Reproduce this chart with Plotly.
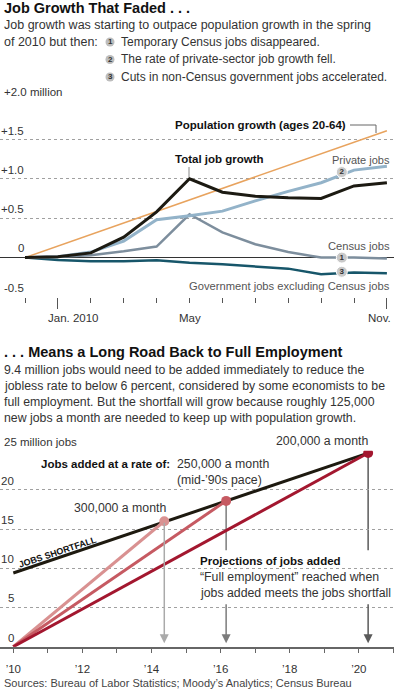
import plotly.graph_objects as go

W, H = 394, 699
FONT = "Liberation Sans"
TXT = "#333333"

# ---------------- Top chart data (millions, change since Dec. 2009) ----------------
months = [0, 1, 2, 3, 4, 5, 6, 7, 8, 9, 10, 11]  # Dec '09 .. Nov '10
total_jobs = [0, 0.01, 0.06, 0.26, 0.58, 1.0, 0.83, 0.78, 0.76, 0.75, 0.91, 0.95]
private_jobs = [0, 0.01, 0.07, 0.21, 0.48, 0.53, 0.59, 0.72, 0.84, 0.95, 1.11, 1.16]
census_jobs = [0, 0.01, 0.03, 0.08, 0.14, 0.55, 0.32, 0.17, 0.07, 0.0, 0.0, -0.01]
gov_ex_census = [0, -0.03, -0.045, -0.045, -0.035, -0.065, -0.085, -0.11, -0.14, -0.21, -0.19, -0.2]
pop_months = [0, 11]
pop_growth = [0, 1.61]
top_ytick_vals = [-0.5, 0.5, 1.0, 1.5, 2.0]
top_ytick_text = ["-0.5", "0", "+0.5", "+1.0", "+1.5"]
badge_month = 9.63
badge_vals = [0.0, 1.085, -0.18]
badge_text = ["1", "2", "3"]

# ---------------- Bottom chart data (millions of jobs) ----------------
shortfall_years = [2010, 2020.27]
shortfall_vals = [9.4, 24.7]
proj_labels = ["300,000 a month", "250,000 a month", "200,000 a month"]
proj_end_years = [2014.37, 2016.16, 2020.27]
proj_end_vals = [16.0, 18.6, 24.7]
proj_colors = ["#d99191", "#c65a62", "#a3172f"]
arrow_colors = ["#aaaaaa", "#7c7c7c", "#5a5a5a"]
bot_ytick_vals = [5, 10, 15, 20, 25]
bot_ytick_text = ["5", "10", "15", "20"]
bot_xtick_vals = [2010, 2012, 2014, 2016, 2018, 2020]
bot_xtick_text = ["\u201910", "\u201912", "\u201914", "\u201916", "\u201918", "\u201920"]


def px(x):
    return x / W


def py(y):
    return 1 - y / H


fig = go.Figure()

# ---- top traces ----
fig.add_trace(go.Scatter(x=pop_months, y=pop_growth, mode="lines",
                         line=dict(color="#e8a35e", width=1.5), xaxis="x", yaxis="y"))
fig.add_trace(go.Scatter(x=months, y=gov_ex_census, mode="lines",
                         line=dict(color="#17566a", width=2.5), xaxis="x", yaxis="y"))
fig.add_trace(go.Scatter(x=months, y=census_jobs, mode="lines",
                         line=dict(color="#7d8e9d", width=2.5), xaxis="x", yaxis="y"))
fig.add_trace(go.Scatter(x=months, y=private_jobs, mode="lines",
                         line=dict(color="#93b3c9", width=3), xaxis="x", yaxis="y"))
fig.add_trace(go.Scatter(x=months, y=total_jobs, mode="lines",
                         line=dict(color="#1c1a12", width=3), xaxis="x", yaxis="y"))
fig.add_trace(go.Scatter(x=[badge_month] * 3, y=badge_vals, mode="markers+text",
                         text=["<b>%s</b>" % t for t in badge_text], textposition="middle center",
                         textfont=dict(family=FONT, size=8, color="#333"),
                         marker=dict(size=11, color="#c9c9c9", line=dict(color="white", width=1)),
                         xaxis="x", yaxis="y"))

# ---- bottom traces ----
fig.add_trace(go.Scatter(x=shortfall_years, y=shortfall_vals, mode="lines",
                         line=dict(color="#1e1a10", width=3), xaxis="x2", yaxis="y2"))
for i in range(3):
    fig.add_trace(go.Scatter(x=[2010, proj_end_years[i]], y=[0, proj_end_vals[i]], mode="lines",
                             line=dict(color=proj_colors[i], width=3), xaxis="x2", yaxis="y2"))
fig.add_trace(go.Scatter(x=proj_end_years, y=proj_end_vals, mode="markers",
                         marker=dict(size=10, color=proj_colors), xaxis="x2", yaxis="y2"))

ann = []


def text(x, y, s, size=12, anchor="left", bold=False, color=TXT, angle=0):
    ann.append(dict(xref="paper", yref="paper", x=px(x), y=py(y), text=("<b>%s</b>" % s) if bold else s,
                    showarrow=False, xanchor=anchor, yanchor="middle", textangle=angle,
                    font=dict(family=FONT, size=size, color=color)))


# header texts top
text(2, 8, "Job Growth That Faded . . .", size=14.5, bold=True, color="#111")
text(2, 25, "Job growth was starting to outpace population growth in the spring", size=12.5)
text(2, 42, "of 2010 but then:", size=12.5)
items = ["Temporary Census jobs disappeared.", "The rate of private-sector job growth fell.",
         "Cuts in non-Census government jobs accelerated."]
item_y = [42, 59.5, 77]
shapes = []
for i, s in enumerate(items):
    shapes.append(dict(type="circle", xref="paper", yref="paper", x0=px(105.5), x1=px(114.5),
                       y0=py(item_y[i] + 4.5), y1=py(item_y[i] - 4.5), fillcolor="#bdbdbd",
                       line=dict(width=0)))
    ann.append(dict(xref="paper", yref="paper", x=px(110), y=py(item_y[i]), text="<b>%d</b>" % (i + 1),
                    showarrow=False, xanchor="center", yanchor="middle",
                    font=dict(family=FONT, size=8, color="#333")))
    text(119, item_y[i], s, size=12)

# top y labels
top_label_y = [288, 248, 209, 170, 131]
for lbl, yy in zip(top_ytick_text, top_label_y):
    text(26, yy, lbl, size=11.5, anchor="right")
text(2, 92, "+2.0 million", size=11.5)

# top x labels
text(73, 318, "Jan. 2010", size=11.5, anchor="center")
text(190, 318, "May", size=11.5, anchor="center")
text(393, 318, "Nov.", size=11.5, anchor="right")

# top series labels
text(173, 125, "Population growth (ages 20-64)", size=11.5, bold=True, color="#111")
text(173, 159, "Total job growth", size=11.5, bold=True, color="#111")
text(392, 160, "Private jobs", size=11, anchor="right", color="#555")
text(392, 246, "Census jobs", size=11.2, anchor="right", color="#555")
text(392, 286, "Government jobs excluding Census jobs", size=11.2, anchor="right", color="#555")
shapes.append(dict(type="path", xref="paper", yref="paper",
                   path="M %f %f L %f %f L %f %f" % (px(350), py(125), px(376), py(125), px(376), py(133)),
                   line=dict(color="#666", width=1)))
shapes.append(dict(type="line", xref="paper", yref="paper", x0=px(189), x1=px(189), y0=py(167), y1=py(177),
                   line=dict(color="#888", width=1)))

# bottom header
text(2, 352, ". . . Means a Long Road Back to Full Employment", size=14.5, bold=True, color="#111")
para = ["9.4 million jobs would need to be added immediately to reduce the",
        "jobless rate to below 6 percent, considered by some economists to be",
        "full employment. But the shortfall will grow because roughly 125,000",
        "new jobs a month are needed to keep up with population growth."]
for i, s in enumerate(para):
    text(2, 370 + 16 * i, s, size=12.3)

# bottom y labels
text(2, 442, "25 million jobs", size=11.5)
for lbl, yy in zip(bot_ytick_text[::-1] + ["0"], [481, 520, 559, 598, 638]):
    text(16, yy, lbl, size=11.5, anchor="right")

# bottom in-chart labels
text(370, 441, proj_labels[2], size=12.3, anchor="right")
text(172, 464, "Jobs added at a rate of:", size=11.5, anchor="right", bold=True, color="#111")
text(175, 464, proj_labels[1], size=12.3)
text(175, 480, "(mid-\u201990s pace)", size=12.3)
text(72, 508, proj_labels[0], size=12.3)
text(58, 552, "JOBS SHORTFALL", size=9, anchor="center", bold=True, color="#111", angle=-18.5)
text(198, 561, "Projections of jobs added", size=11.5, bold=True, color="#111")
text(198, 577, "\u201cFull employment\u201d reached when", size=12.3)
text(198, 593, "jobs added meets the jobs shortfall", size=12.3)
text(2, 683, "Sources: Bureau of Labor Statistics; Moody\u2019s Analytics; Census Bureau", size=11, color="#444")

# drop arrows
gap_top, gap_bot = 12.3, 5.6
for i in range(3):
    xe, ye = proj_end_years[i], proj_end_vals[i]
    start = ye if i == 0 else gap_bot
    if i > 0:
        shapes.append(dict(type="line", xref="x2", yref="y2", x0=xe, x1=xe, y0=ye, y1=gap_top,
                           line=dict(color=arrow_colors[i], width=1.5), layer="below"))
    ann.append(dict(xref="x2", yref="y2", axref="x2", ayref="y2", x=xe, y=0.45, ax=xe, ay=start,
                    text="", showarrow=True, arrowhead=2, arrowsize=1.2, arrowwidth=1.5,
                    arrowcolor=arrow_colors[i], standoff=0))

dot_grid = dict(showgrid=True, gridcolor="#a0a0a0", griddash="dot", gridwidth=1)

fig.update_layout(
    width=W, height=H, margin=dict(l=0, r=0, t=0, b=0),
    paper_bgcolor="white", plot_bgcolor="white", showlegend=False,
    font=dict(family=FONT, color=TXT),
    xaxis=dict(domain=[0, 1], range=[-25 / 32.9, (W - 25) / 32.9], showgrid=False, zeroline=False,
               showline=False, anchor="y", tickmode="array", tickvals=[1, 11], ticks="outside",
               ticklen=11, tickcolor="#555", tickwidth=1, showticklabels=False,
               minor=dict(tickmode="linear", tick0=0, dtick=1, ticks="outside", ticklen=5,
                          tickcolor="#555", tickwidth=1, showgrid=False),
               fixedrange=True),
    yaxis=dict(domain=[py(297), py(100)], range=[-0.5, 2.0], tickmode="array",
               tickvals=top_ytick_vals, showticklabels=False, zeroline=True,
               zerolinecolor="#333", zerolinewidth=1, anchor="x", **dot_grid),
    xaxis2=dict(domain=[0, 1], range=[2010 - 13.3 / 34.55, 2010 + (W - 13.3) / 34.55], anchor="y2",
                tickmode="array", tickvals=bot_xtick_vals, ticktext=bot_xtick_text, ticks="outside",
                ticklen=5, tickcolor="#666", showline=True, linecolor="#666", linewidth=1.5,
                showgrid=False, zeroline=False, ticklabelstandoff=6,
                tickfont=dict(family=FONT, size=11.5, color=TXT),
                minor=dict(tickmode="linear", tick0=2010, dtick=1, ticks="outside", ticklen=5,
                           tickcolor="#666", showgrid=False)),
    yaxis2=dict(domain=[py(646.7), py(450.7)], range=[0, 25], anchor="x2", tickmode="array",
                tickvals=bot_ytick_vals, showticklabels=False, zeroline=False, **dot_grid),
    annotations=ann, shapes=shapes,
)
for ax in ["xaxis", "yaxis", "xaxis2", "yaxis2"]:
    fig.layout[ax].automargin = False

fig.write_html("out.html", config={"displayModeBar": False},
               post_script="document.body.style.margin='0';document.body.style.overflow='hidden';")
